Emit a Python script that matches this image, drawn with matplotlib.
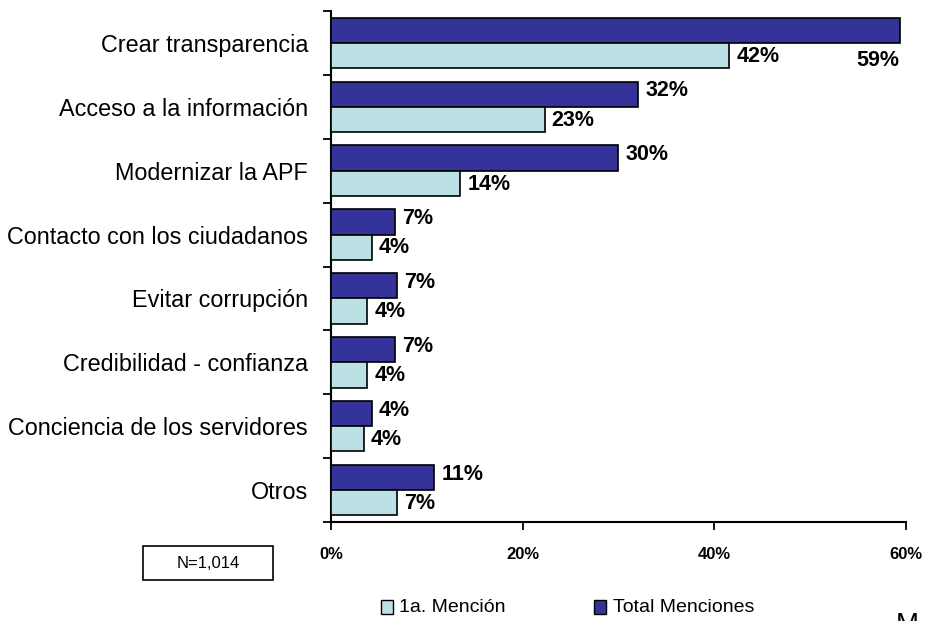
import matplotlib
matplotlib.use("Agg")
import matplotlib.pyplot as plt
from matplotlib.patches import Rectangle
import numpy as np

plt.rcParams['font.family'] = ['Liberation Sans', 'DejaVu Sans']

categories = ["Crear transparencia", "Acceso a la información", "Modernizar la APF",
              "Contacto con los ciudadanos", "Evitar corrupción", "Credibilidad - confianza",
              "Conciencia de los servidores", "Otros"]
total_menciones = [59.4, 32.1, 30.0, 6.7, 6.9, 6.7, 4.3, 10.8]
primera_mencion = [41.6, 22.3, 13.5, 4.3, 3.8, 3.8, 3.4, 6.9]
total_labels = ["59%", "32%", "30%", "7%", "7%", "7%", "4%", "11%"]
primera_labels = ["42%", "23%", "14%", "4%", "4%", "4%", "4%", "7%"]
xticks = [0, 20, 40, 60]
xtick_labels = ["0%", "20%", "40%", "60%"]
legend_labels = ["1a. Mención", "Total Menciones"]
n_text = "N=1,014"

dark = "#333399"
light = "#BCE1E4"

W, H = 930, 621
fig = plt.figure(figsize=(W / 100, H / 100), dpi=100)
ax = fig.add_axes([331 / W, (H - 522) / H, 574.5 / W, 511 / H])

y = np.arange(len(categories))
bh = 0.395
off = 0.198
ax.barh(y - off, total_menciones, height=bh, color=dark, edgecolor="black", linewidth=1.2, zorder=3)
ax.barh(y + off, primera_mencion, height=bh, color=light, edgecolor="black", linewidth=1.2, zorder=3)

for i in range(len(categories)):
    if i == 0:
        ax.annotate(total_labels[i], xy=(total_menciones[i], i + 0.28), xytext=(0, 0),
                    textcoords="offset points", ha="right", va="center",
                    fontsize=15.5, fontweight="bold")
    else:
        ax.annotate(total_labels[i], xy=(total_menciones[i], i - 0.25), xytext=(5, 0),
                    textcoords="offset points", ha="left", va="center",
                    fontsize=15.5, fontweight="bold")
    ax.annotate(primera_labels[i], xy=(primera_mencion[i], i + 0.21), xytext=(5, 0),
                textcoords="offset points", ha="left", va="center",
                fontsize=15.5, fontweight="bold")

ax.set_xlim(0, 60)
ax.set_ylim(len(categories) - 0.5, -0.5)

ax.set_xticks(xticks)
ax.set_xticklabels(xtick_labels, fontsize=12, fontweight="bold")
ax.tick_params(axis="x", direction="out", length=5.5, width=1.3, pad=12.5)

ax.set_yticks(np.arange(-0.5, len(categories) + 0.5, 1))
ax.set_yticklabels([])
ax.set_yticks(y, minor=True)
ax.set_yticklabels(categories, minor=True, fontsize=16.8)
ax.tick_params(axis="y", which="major", direction="out", length=5.5, width=1.3)
ax.tick_params(axis="y", which="minor", length=0, pad=16.5)

for s in ["top", "right"]:
    ax.spines[s].set_visible(False)
for s in ["left", "bottom"]:
    ax.spines[s].set_linewidth(1.5)

# N box
fig.patches.append(Rectangle((143 / W, (H - 580) / H), 130 / W, 34 / H,
                             transform=fig.transFigure, facecolor="white",
                             edgecolor="black", linewidth=1.2))
fig.text(208 / W, (H - 563) / H, n_text, ha="center", va="center", fontsize=12)

# legend
sq_w, sq_h = 12, 14
for xs, col, lab, xt in [(381, light, legend_labels[0], 399), (594, dark, legend_labels[1], 613)]:
    fig.patches.append(Rectangle((xs / W, (H - 614) / H), sq_w / W, sq_h / H,
                                 transform=fig.transFigure, facecolor=col,
                                 edgecolor="black", linewidth=1.0))
    fig.text(xt / W, (H - 607) / H, lab, ha="left", va="center", fontsize=14)

fig.text(896 / W, (H - 612) / H, "M", ha="left", va="top", fontsize=20)

fig.savefig("out.png", dpi=100)
